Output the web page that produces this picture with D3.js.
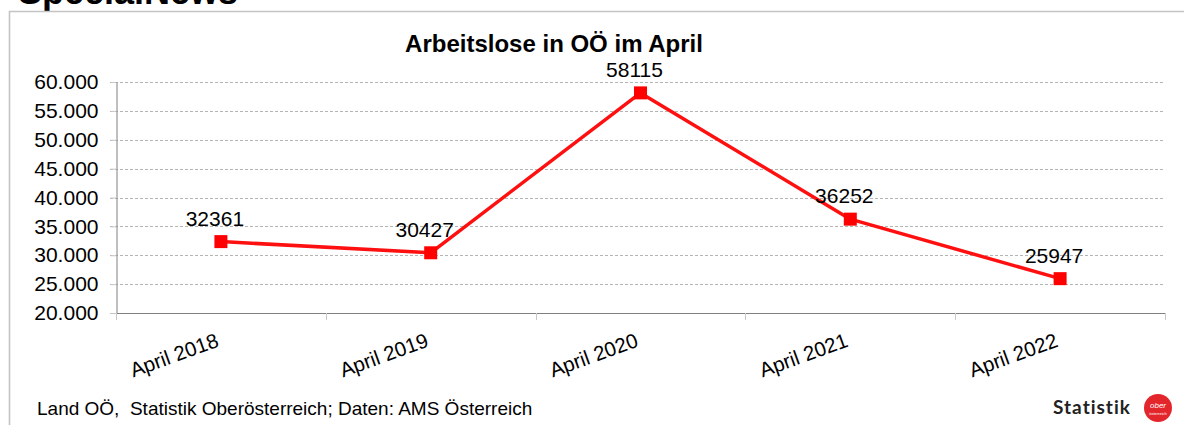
<!DOCTYPE html>
<html>
<head>
<meta charset="utf-8">
<script src="https://cdn.jsdelivr.net/npm/d3@7"></script>
<style>
  body { margin: 0; background: #fff; }
  svg { display: block; font-family: "Liberation Sans", Arial, sans-serif; }
</style>
</head>
<body>
<svg id="chart" width="1184" height="425"></svg>
<script>
// Data
const categories = ["April 2018", "April 2019", "April 2020", "April 2021", "April 2022"];
const values = [32361, 30427, 58115, 36252, 25947];
const yTicks = [20000, 25000, 30000, 35000, 40000, 45000, 50000, 55000, 60000];

const svg = d3.select("#chart");

// plot area
const plot = { left: 116, right: 1165, top: 82, bottom: 313 };

const x = d3.scaleBand().domain(categories).range([plot.left, plot.right]);
const y = d3.scaleLinear().domain([20000, 60000]).range([plot.bottom, plot.top]);

// page furniture (frame + cut off heading)
svg.append("text")
  .attr("x", 18).attr("y", 4)
  .style("font-size", "36px").style("font-weight", "bold")
  .text("SpecialNews");

svg.append("path")
  .attr("d", "M9.5,425 V11.5 H1184")
  .style("fill", "none").style("stroke", "#c4c4c4").style("stroke-width", 1.6);

// title
svg.append("text")
  .attr("x", 554).attr("y", 52)
  .attr("text-anchor", "middle")
  .style("font-size", "24px").style("font-weight", "bold")
  .text("Arbeitslose in OÖ im April");

// gridlines
svg.append("g")
  .selectAll("line")
  .data(yTicks.slice(1))
  .join("line")
  .attr("x1", plot.left - 6).attr("x2", plot.right)
  .attr("y1", d => Math.round(y(d)) + 0.5).attr("y2", d => Math.round(y(d)) + 0.5)
  .style("stroke", "#b4b4b4").style("stroke-dasharray", "3,2").style("stroke-width", 1);

// y axis
const yAxis = svg.append("g")
  .attr("transform", `translate(${plot.left + 0.5},0)`)
  .call(d3.axisLeft(y).tickValues(yTicks).tickSize(6).tickPadding(12)
    .tickFormat(d => d3.format(",")(d).replace(/,/g, ".")));
yAxis.select(".domain").style("stroke", "#808080");
yAxis.selectAll(".tick line").style("stroke", "#c8c8c8");
yAxis.selectAll("text").style("font-size", "21px").style("fill", "#000")
  .style("font-family", "Liberation Sans, Arial, sans-serif");

// x axis
const bounds = categories.map(c => x(c)).concat([plot.right]);
const xAxis = svg.append("g");
xAxis.append("line")
  .attr("x1", plot.left).attr("x2", plot.right)
  .attr("y1", plot.bottom + 0.5).attr("y2", plot.bottom + 0.5)
  .style("stroke", "#808080");
xAxis.selectAll(".xtick")
  .data(bounds)
  .join("line")
  .attr("class", "xtick")
  .attr("x1", d => Math.round(d) + 0.5).attr("x2", d => Math.round(d) + 0.5)
  .attr("y1", plot.bottom).attr("y2", plot.bottom + 7)
  .style("stroke", "#c8c8c8");

xAxis.selectAll(".xlabel")
  .data(categories)
  .join("text")
  .attr("class", "xlabel")
  .attr("text-anchor", "end")
  .attr("transform", d => `translate(${x(d) + x.bandwidth() / 2 - 1},${plot.bottom + 33}) rotate(-20)`)
  .style("font-size", "20.5px")
  .text(d => d);

// series line
const cx = (d, i) => x(categories[i]) + x.bandwidth() / 2;
const line = d3.line()
  .x((d, i) => cx(d, i))
  .y(d => y(d));

svg.append("path")
  .datum(values)
  .attr("d", line)
  .style("fill", "none")
  .style("stroke", "#ff1010")
  .style("stroke-width", 3.5)
  .style("stroke-linejoin", "round");

// markers
const size = 13;
svg.selectAll(".marker")
  .data(values)
  .join("rect")
  .attr("class", "marker")
  .attr("x", (d, i) => cx(d, i) - size / 2)
  .attr("y", d => y(d) - size / 2)
  .attr("width", size).attr("height", size)
  .style("fill", "#ff0000");

// data labels
svg.selectAll(".dlabel")
  .data(values)
  .join("text")
  .attr("class", "dlabel")
  .attr("x", (d, i) => cx(d, i) - 6)
  .attr("y", d => y(d) - 16)
  .attr("text-anchor", "middle")
  .style("font-size", "21px")
  .text(d => d);

// footer
svg.append("text")
  .attr("x", 37).attr("y", 415)
  .style("font-size", "19px")
  .style("white-space", "pre")
  .text("Land OÖ,  Statistik Oberösterreich; Daten: AMS Österreich");

// logo
svg.append("text")
  .attr("x", 1092).attr("y", 414)
  .attr("text-anchor", "middle")
  .style("font-size", "19px").style("font-weight", "bold")
  .style("letter-spacing", "1px")
  .style("font-family", "Lato, 'DejaVu Sans', sans-serif")
  .style("fill", "#222")
  .text("Statistik");
svg.append("circle")
  .attr("cx", 1158).attr("cy", 408).attr("r", 14)
  .style("fill", "#e3262b");
svg.append("text")
  .attr("x", 1158).attr("y", 408)
  .attr("text-anchor", "middle")
  .style("font-size", "8px").style("fill", "#fff").style("font-style", "italic")
  .text("ober");
svg.append("text")
  .attr("x", 1158).attr("y", 415)
  .attr("text-anchor", "middle")
  .style("font-size", "4px").style("fill", "#fff")
  .text("österreich");
</script>
</body>
</html>
